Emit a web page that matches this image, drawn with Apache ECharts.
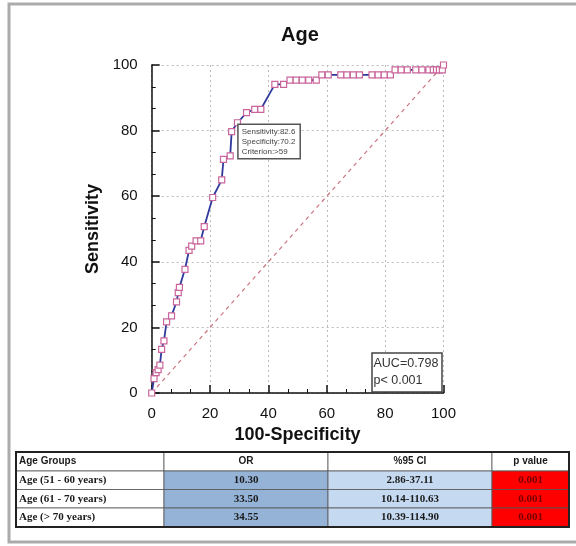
<!DOCTYPE html>
<html>
<head>
<meta charset="utf-8">
<title>Age ROC</title>
<script src="https://cdn.jsdelivr.net/npm/echarts@6/dist/echarts.min.js"></script>
<style>
	html, body { margin: 0; padding: 0; background: #ffffff; }
	#chart { width: 576px; height: 546px; }
</style>
</head>
<body>
<div id="chart"></div>
<script>
	// ROC curve points: 100-Specificity (x) and Sensitivity (y)
	const fpr = [0, 0.8, 1.5, 2.2, 2.8, 3.4, 4.2, 5.1, 6.8, 8.5,
		9.1, 9.5, 11.4, 12.8, 13.7, 15.2, 16.8, 18.0, 20.9, 24.0,
		24.6, 26.9, 27.4, 29.4, 32.5, 35.3, 37.4, 42.2, 45.2, 47.4,
		49.5, 51.6, 53.8, 56.4,
		58.3, 60.5, 64.8, 66.9, 69.1, 71.2, 75.5, 77.6, 79.7, 81.8,
		83.4, 85.5, 87.6, 90.5, 92.6, 95.0, 96.5, 97.6, 98.6, 99.6,
		100];
	const tpr = [0, 4.4, 6.2, 7.1, 8.5, 13.3, 15.9, 21.7, 23.5, 27.8,
		30.6, 32.2, 37.7, 43.5, 44.8, 46.4, 46.4, 50.7, 59.6, 65.0,
		71.2, 72.3, 79.7, 82.4, 85.5, 86.5, 86.5, 94.1, 94.1, 95.4,
		95.4, 95.4, 95.4, 95.4,
		97.0, 97.0, 97.0, 97.0, 97.0, 97.0, 97.0, 97.0, 97.0, 97.0,
		98.5, 98.5, 98.5, 98.5, 98.5, 98.5, 98.5, 98.5, 98.5, 98.5,
		100];
	const diagonal = [[0, 0], [100, 100]];

	// criterion point
	const critSens = 82.6;
	const critSpec = 70.2;
	const critText = '>59';
	const aucText = 'AUC=0.798';
	const pText = 'p< 0.001';

	// table
	const tableHeader = ['Age Groups', 'OR', '%95 CI', 'p value'];
	const ageGroups = ['Age (51 - 60 years)', 'Age (61 - 70 years)', 'Age (> 70 years)'];
	const orValues = ['10.30', '33.50', '34.55'];
	const ciValues = ['2.86-37.11', '10.14-110.63', '10.39-114.90'];
	const pValues = ['0.001', '0.001', '0.001'];

	const SANS = 'Liberation Sans, Arial, Helvetica, sans-serif';
	const SERIF = 'Liberation Serif, Times New Roman, serif';

	// table layout
	const colX = [16, 164, 328, 492, 569];
	const rowY = [452, 471, 489.5, 508, 527];
	const cellFill = ['#ffffff', '#95b3d7', '#c5d9f1', '#ff0000'];

	function buildTable() {
		const els = [];
		const rows = [tableHeader];
		ageGroups.forEach((g, i) => {
			rows.push([g, orValues[i], ciValues[i], pValues[i]]);
		});
		rows.forEach((row, r) => {
			row.forEach((txt, c) => {
				const x0 = colX[c], x1 = colX[c + 1];
				const y0 = rowY[r], y1 = rowY[r + 1];
				els.push({
					type: 'rect',
					z: 100,
					shape: { x: x0, y: y0, width: x1 - x0, height: y1 - y0 },
					style: { fill: r === 0 ? '#ffffff' : cellFill[c], stroke: '#555555', lineWidth: 0.8 }
				});
				els.push({
					type: 'text',
					z: 101,
					x: c === 0 ? x0 + 3 : (x0 + x1) / 2,
					y: (y0 + y1) / 2,
					style: {
						text: txt,
						align: c === 0 ? 'left' : 'center',
						verticalAlign: 'middle',
						fontFamily: r === 0 ? SANS : SERIF,
						fontSize: r === 0 ? 10 : 11,
						fontWeight: 'bold',
						fill: (r > 0 && c === 3) ? '#7a0000' : '#1a1a1a'
					}
				});
			});
		});
		// outer border
		els.push({
			type: 'rect',
			z: 102,
			shape: { x: colX[0], y: rowY[0], width: colX[4] - colX[0], height: rowY[4] - rowY[0] },
			style: { fill: 'none', stroke: '#222222', lineWidth: 2 }
		});
		return els;
	}

	const chart = echarts.init(document.getElementById('chart'));

	const axisCommon = {
		type: 'value',
		min: 0,
		max: 100,
		interval: 20,
		nameLocation: 'middle',
		nameTextStyle: { fontFamily: SANS, fontSize: 18, fontWeight: 'bold', color: '#111111' },
		axisLine: { show: true, lineStyle: { color: '#111111', width: 1.5 } },
		axisTick: { show: true, inside: true, length: 8, lineStyle: { color: '#111111', width: 1.5 } },
		minorTick: { show: true, splitNumber: 3, length: 4, lineStyle: { color: '#111111', width: 1 } },
		splitLine: { show: true, lineStyle: { color: '#bcbcbc', width: 1, type: [2, 3] } }
	};

	chart.setOption({
		animation: false,
		title: {
			text: 'Age',
			left: 295,
			textAlign: 'center',
			top: 20,
			textStyle: { fontFamily: SANS, fontSize: 20, fontWeight: 'bold', color: '#111111' }
		},
		grid: {
			left: 151.7,
			right: 132.5,
			top: 65,
			bottom: 153,
			outerBoundsMode: 'none',
			containLabel: false
		},
		xAxis: Object.assign({}, axisCommon, {
			name: '100-Specificity',
			nameGap: 22,
			offset: 9,
			axisLabel: { fontFamily: SANS, fontSize: 15, color: '#111111', margin: 4 }
		}),
		yAxis: Object.assign({}, axisCommon, {
			name: 'Sensitivity',
			nameGap: 37,
			offset: 8,
			axisLabel: { fontFamily: SANS, fontSize: 15, color: '#111111', margin: 6 }
		}),
		series: [
			{
				type: 'line',
				data: diagonal,
				showSymbol: false,
				silent: true,
				z: 1,
				lineStyle: { color: '#cc7480', width: 1.2, type: [4, 4] }
			},
			{
				type: 'line',
				data: fpr.map((x, i) => [x, tpr[i]]),
				symbol: 'rect',
				symbolSize: 6,
				z: 3,
				lineStyle: { color: '#2f3a9c', width: 1.8 },
				itemStyle: { color: '#ffffff', borderColor: '#c9659a', borderWidth: 1.2 },
				markPoint: {
					symbol: 'circle',
					symbolSize: 0,
					silent: true,
					data: [{ coord: [100 - critSpec, critSens] }],
					label: {
						show: true,
						position: [0, 3],
						align: 'left',
						verticalAlign: 'top',
						formatter: 'Sensitivity:' + critSens + '\nSpecificity:' + critSpec + '\nCriterion:' + critText,
						fontFamily: SANS,
						fontSize: 8,
						lineHeight: 10,
						color: '#444444',
						backgroundColor: '#ffffff',
						borderColor: '#555555',
						borderWidth: 1.5,
						padding: [2, 4, 1, 3]
					}
				}
			}
		],
		graphic: [
			// outer frame
			{
				type: 'rect',
				z: 0,
				silent: true,
				shape: { x: 9, y: 4, width: 600, height: 538 },
				style: { fill: 'none', stroke: '#ababab', lineWidth: 3 }
			},
			// AUC box
			{
				type: 'group',
				z: 100,
				children: [
					{
						type: 'rect',
						z: 100,
						shape: { x: 372, y: 353, width: 70, height: 39 },
						style: { fill: '#ffffff', stroke: '#444444', lineWidth: 1.5 }
					},
					{
						type: 'text',
						z: 101,
						x: 373.5,
						y: 364,
						style: { text: aucText, fontFamily: SANS, fontSize: 12.5, fill: '#333333', verticalAlign: 'middle' }
					},
					{
						type: 'text',
						z: 101,
						x: 373.5,
						y: 381,
						style: { text: pText, fontFamily: SANS, fontSize: 12.5, fill: '#333333', verticalAlign: 'middle' }
					}
				]
			}
		].concat(buildTable())
	});
</script>
</body>
</html>
